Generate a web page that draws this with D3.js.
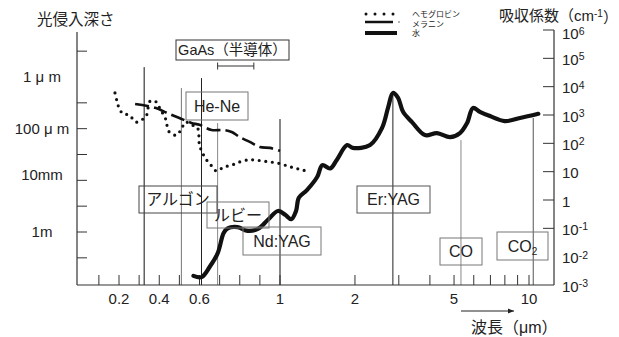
<!doctype html>
<html lang="ja">
<head>
<meta charset="utf-8">
<script src="https://cdn.jsdelivr.net/npm/d3@7"></script>
<style>
  body { margin: 0; background: #fff; }
  svg text { font-family: "Liberation Sans", Arial, "Noto Sans CJK JP", sans-serif; fill: #222; }
</style>
</head>
<body>
<div id="chart"></div>
<script>
// wavelengths in micrometres, absorption in cm-1
var hemoWl = [0.18, 0.19, 0.20, 0.22, 0.25, 0.285, 0.31, 0.335, 0.355, 0.385, 0.405, 0.43, 0.45, 0.485, 0.51, 0.53, 0.56, 0.59,
              0.60, 0.615, 0.635, 0.66, 0.685, 0.72, 0.76, 0.80, 0.84, 0.87, 0.91, 0.95, 0.99, 1.07, 1.14, 1.23, 1.32];
var hemoAbs = [6000, 3100, 1800, 1100, 1000, 560, 660, 910, 3100, 2900, 1600, 780, 250, 195, 320, 560, 450, 350,
               87, 46, 26, 16, 10.5, 14.5, 17, 22, 26, 26, 24, 22, 20, 16, 13.5, 11.5, 9.8];

var melWl = [0.28, 0.38, 0.44, 0.50, 0.56, 0.60, 0.66, 0.72, 0.76, 0.80, 0.85, 0.90, 0.95, 1.0];
var melAbs = [2450, 1800, 1170, 780, 525, 450, 295, 295, 250, 166, 112, 74, 69, 54];

var waterWl = [0.57, 0.61, 0.65, 0.69, 0.72, 0.74, 0.79, 0.84, 0.89, 0.94, 0.99, 1.05, 1.11, 1.16, 1.19, 1.28, 1.41, 1.48,
               1.59, 1.69, 1.86, 1.96, 2.3, 2.57, 2.72, 2.84, 2.98, 3.12, 3.39, 3.82, 4.27, 4.82, 5.28, 5.64, 5.96,
               6.35, 6.97, 8.0, 9.2, 10.9];
var waterAbs = [0.0021, 0.0019, 0.0043, 0.013, 0.068, 0.10, 0.11, 0.081, 0.095, 0.20, 0.41, 0.30, 0.21, 0.41, 1.2, 2.2, 6.5, 17,
                13, 26, 87, 69, 87, 350, 1900, 6000, 4000, 1300, 560, 195, 230, 165, 230, 520, 1780,
                1300, 920, 610, 780, 1100];

// laser lines: wavelength and the height (on the absorption axis) where the line stops
var laserWl = [0.325, 0.51, 0.61, 0.69, 1.0, 2.84, 5.33, 10.4];
var laserTop = [49000, 8900, 20000, 520, 720, 5100, 130, 780];
var laserShade = ["#111", "#777", "#222", "#888", "#111", "#222", "#888", "#555"];

var gaasRange = [0.69, 0.87];

var xTicks = [0.1, 0.2, 0.3, 0.4, 0.5, 0.6, 0.7, 0.8, 0.9, 1, 2, 3, 4, 5, 6, 7, 8, 9, 10];
var xLabels = [0.2, 0.4, 0.6, 1, 2, 5, 10];
var absTicks = [1e6, 1e5, 1e4, 1e3, 1e2, 10, 1, 0.1];
var absLabelExp = [6, 5, 4, 3, 2, 1, 0, -1, -2, -3];
var depthTicks = [1e-7, 1e-5, 1e-4, 1e-3, 1e-2, 1e-1, 1, 10];
var depthLabelVal = [1e-6, 1e-4, 1e-2, 1];
var depthLabelTxt = ["1 μ m", "100 μ m", "10mm", "1m"];

var W = 619, H = 337;
var pL = 77, pR = 554, pT = 30, pB = 285;

var svg = d3.select("#chart").append("svg").attr("width", W).attr("height", H);

// x axis: linear up to 1 um, log above
var xLin = d3.scaleLinear().domain([0.2, 1]).range([119, 280]);
var xLog = d3.scaleLog().domain([1, 10]).range([280, 529]);
var x = function(w) { return w <= 1 ? xLin(w) : xLog(w); };
var y = d3.scaleLog().domain([1e-3, 1e6]).range([pB, pT]);
var yDepth = d3.scaleLog().domain([1e-6, 1]).range([77, 232]);

// laser lines
svg.append("g").selectAll("line").data(laserWl).enter().append("line")
  .attr("x1", function(d) { return x(d); }).attr("x2", function(d) { return x(d); })
  .attr("y1", function(d, i) { return y(laserTop[i]); }).attr("y2", pB)
  .attr("stroke", function(d, i) { return laserShade[i]; })
  .attr("stroke-width", 1);

// axes frame
var frame = svg.append("g").attr("stroke", "#333").attr("stroke-width", 1.2);
frame.append("line").attr("x1", pL).attr("x2", pL).attr("y1", pT + 2).attr("y2", pB);
frame.append("line").attr("x1", pR).attr("x2", pR).attr("y1", pT).attr("y2", pB);
frame.append("line").attr("x1", pL).attr("x2", pR).attr("y1", pB).attr("y2", pB);

// bottom ticks
svg.append("g").selectAll("line").data(xTicks).enter().append("line")
  .attr("x1", function(d) { return x(d); }).attr("x2", function(d) { return x(d); })
  .attr("y1", pB).attr("y2", pB - 10)
  .attr("stroke", "#333").attr("stroke-width", 1);
svg.append("g").selectAll("text").data(xLabels).enter().append("text")
  .attr("x", function(d) { return x(d); }).attr("y", pB + 19)
  .attr("text-anchor", "middle").style("font-size", "15px")
  .text(function(d) { return d; });

// left ticks (penetration depth)
svg.append("g").selectAll("line").data(depthTicks).enter().append("line")
  .attr("x1", pL).attr("x2", pL + 10)
  .attr("y1", function(d) { return yDepth(d); }).attr("y2", function(d) { return yDepth(d); })
  .attr("stroke", "#333").attr("stroke-width", 1);
svg.append("g").selectAll("text").data(depthLabelVal).enter().append("text")
  .attr("x", 42).attr("y", function(d) { return yDepth(d); })
  .attr("dy", function(d) { return d === 1e-2 ? "0" : "0.36em"; })
  .attr("text-anchor", "middle").style("font-size", "15px")
  .text(function(d, i) { return depthLabelTxt[i]; });

// right ticks (absorption)
svg.append("g").selectAll("line").data(absTicks).enter().append("line")
  .attr("x1", pR - 11).attr("x2", pR)
  .attr("y1", function(d) { return y(d); }).attr("y2", function(d) { return y(d); })
  .attr("stroke", "#333").attr("stroke-width", 1);
var rl = svg.append("g").selectAll("text").data(absLabelExp).enter().append("text")
  .attr("x", pR + 8).attr("y", function(d) { return y(Math.pow(10, d)); })
  .attr("dy", function(d) { return d === 6 ? "0.62em" : "0.45em"; }).style("font-size", "15px");
rl.each(function(d) {
  var t = d3.select(this);
  if (d === 0) { t.text("1"); return; }
  t.append("tspan").text("10");
  if (d !== 1) t.append("tspan").attr("dy", "-0.45em").style("font-size", "10.5px").text(d);
});

// curves
var line = d3.line()
  .x(function(d) { return x(d[0]); })
  .y(function(d) { return y(d[1]); })
  .curve(d3.curveCatmullRom.alpha(0.5));

svg.append("path").datum(d3.zip(hemoWl, hemoAbs)).attr("d", line)
  .attr("fill", "none").attr("stroke", "#111").attr("stroke-width", 3.2)
  .attr("stroke-linecap", "round").attr("stroke-dasharray", "0,6.6");
svg.append("path").datum(d3.zip(melWl, melAbs)).attr("d", line)
  .attr("fill", "none").attr("stroke", "#111").attr("stroke-width", 2.6)
  .attr("stroke-dasharray", "14,5");
svg.append("path").datum(d3.zip(waterWl, waterAbs)).attr("d", line)
  .attr("fill", "none").attr("stroke", "#111").attr("stroke-width", 4.2)
  .attr("stroke-linecap", "round").attr("stroke-linejoin", "round");

// label boxes
var boxes = [
  {t: "GaAs（半導体）", x0: 176, y0: 40, x1: 289, y1: 60, c: "#333"},
  {t: "He-Ne", x0: 186, y0: 92, x1: 248, y1: 120, c: "#777"},
  {t: "アルゴン", x0: 139, y0: 186, x1: 217, y1: 213, c: "#444"},
  {t: "ルビー", x0: 207, y0: 202, x1: 269, y1: 228, c: "#777"},
  {t: "Nd:YAG", x0: 243, y0: 227, x1: 321, y1: 255, c: "#777"},
  {t: "Er:YAG", x0: 357, y0: 186, x1: 430, y1: 213, c: "#555"},
  {t: "CO", x0: 440, y0: 238, x1: 482, y1: 265, c: "#777"},
  {t: "CO2", x0: 497, y0: 232, x1: 548, y1: 260, c: "#777"}
];
var bg = svg.append("g").selectAll("g").data(boxes).enter().append("g");
bg.append("rect")
  .attr("x", function(d) { return d.x0; }).attr("y", function(d) { return d.y0; })
  .attr("width", function(d) { return d.x1 - d.x0; }).attr("height", function(d) { return d.y1 - d.y0; })
  .attr("fill", "none").attr("stroke", function(d) { return d.c; }).attr("stroke-width", 1);
bg.append("text")
  .attr("x", function(d) { return (d.x0 + d.x1) / 2; })
  .attr("y", function(d) { return (d.y0 + d.y1) / 2; })
  .attr("dy", "0.36em").attr("text-anchor", "middle")
  .style("font-size", function(d) { return d.t.indexOf("GaAs") === 0 ? "14.5px" : "16px"; })
  .each(function(d) {
    var t = d3.select(this);
    if (d.t === "CO2") {
      t.append("tspan").text("CO");
      t.append("tspan").attr("dy", "0.35em").style("font-size", "10px").text("2");
    } else {
      t.text(d.t);
    }
  });

// GaAs range bar
var gy = 66;
svg.append("line").attr("x1", x(gaasRange[0])).attr("x2", x(gaasRange[1]))
  .attr("y1", gy).attr("y2", gy).attr("stroke", "#333").attr("stroke-width", 1);
svg.append("g").selectAll("line").data(gaasRange).enter().append("line")
  .attr("x1", function(d) { return x(d); }).attr("x2", function(d) { return x(d); })
  .attr("y1", gy - 3.5).attr("y2", gy + 3.5).attr("stroke", "#333").attr("stroke-width", 1);

// titles
svg.append("text").attr("x", 37).attr("y", 25).style("font-size", "15.5px").text("光侵入深さ");
var rt = svg.append("text").attr("x", 499).attr("y", 21).style("font-size", "15px");
rt.append("tspan").text("吸収係数（cm");
rt.append("tspan").attr("dy", "-0.45em").style("font-size", "10px").text("-1");
rt.append("tspan").attr("dy", "0.45em").text("）");

svg.append("text").attr("x", 471).attr("y", 333).style("font-size", "16px").text("波長（μm）");

// arrow
svg.append("defs").append("marker").attr("id", "ah")
  .attr("viewBox", "0 0 10 10").attr("refX", 10).attr("refY", 5)
  .attr("markerWidth", 6).attr("markerHeight", 6).attr("orient", "auto")
  .append("path").attr("d", "M0,1L10,5L0,9Z").attr("fill", "#222");
svg.append("line").attr("x1", 461).attr("x2", 514).attr("y1", 311).attr("y2", 311)
  .attr("stroke", "#222").attr("stroke-width", 1).attr("marker-end", "url(#ah)");

// legend
var lg = svg.append("g");
lg.append("line").attr("x1", 366).attr("x2", 394).attr("y1", 14).attr("y2", 14)
  .attr("stroke", "#111").attr("stroke-width", 3).attr("stroke-linecap", "round").attr("stroke-dasharray", "0,9");
lg.append("line").attr("x1", 365).attr("x2", 393).attr("y1", 22).attr("y2", 22)
  .attr("stroke", "#111").attr("stroke-width", 2.5);
lg.append("circle").attr("cx", 399).attr("cy", 22).attr("r", 0.8).attr("fill", "#555");
lg.append("line").attr("x1", 365).attr("x2", 397).attr("y1", 33).attr("y2", 33)
  .attr("stroke", "#111").attr("stroke-width", 4);
var legTxt = ["ヘモグロビン", "メラニン", "水"];
lg.selectAll("text").data(legTxt).enter().append("text")
  .attr("x", 412).attr("y", function(d, i) { return [14, 24, 33][i]; })
  .attr("dy", "0.36em").style("font-size", "8px")
  .text(function(d) { return d; });
</script>
</body>
</html>
